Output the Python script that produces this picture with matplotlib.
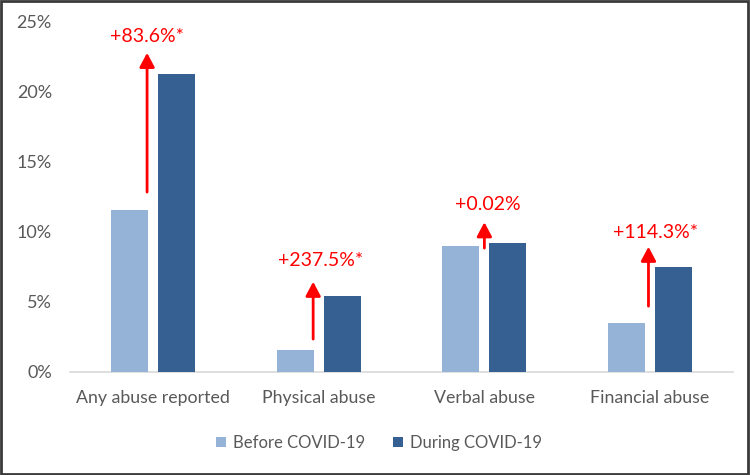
import matplotlib
matplotlib.use("Agg")
import matplotlib.pyplot as plt
import matplotlib.patches as mpatches
import numpy as np

plt.rcParams.update({
    "font.family": ["Lato", "DejaVu Sans"],
    "font.size": 12,
})

# ── data ────────────────────────────────────────────────────────────────────
categories = ["Any abuse reported", "Physical abuse", "Verbal abuse", "Financial abuse"]
before = [11.6, 1.6, 9.0, 3.5]    # % Before COVID-19
during = [21.3, 5.4, 9.2, 7.5]    # % During COVID-19
changes = ["+83.6%*", "+237.5%*", "+0.02%", "+114.3%*"]

# annotation layout (data units: x offset from category, y in %)
arrow_dx = [-0.035, -0.033, 0.0, -0.01]
arrow_y0 = [12.85, 2.35, 8.85, 4.7]
arrow_y1 = [22.8, 6.45, 10.7, 8.95]
label_dx = [-0.035, 0.015, 0.02, 0.03]
label_y = [24.0, 7.95, 11.95, 9.95]

C_BEFORE = "#95B3D7"
C_DURING = "#366092"
C_TEXT = "#595959"

fig = plt.figure(figsize=(7.5, 4.75), dpi=100)
ax = fig.add_axes([70 / 750, 1 - 372 / 475, 663 / 750, 350 / 475])

x = np.arange(len(categories))
bw = 0.223
off = 0.142
ax.bar(x - off, before, bw, color=C_BEFORE, label="Before COVID-19", zorder=3)
ax.bar(x + off, during, bw, color=C_DURING, label="During COVID-19", zorder=3)

for i, (txt, dx, y0, y1, ldx, ly) in enumerate(zip(changes, arrow_dx, arrow_y0,
                                                   arrow_y1, label_dx, label_y)):
    ax.annotate("", xy=(i + dx, y1), xytext=(i + dx, y0),
                arrowprops=dict(arrowstyle="-|>,head_length=0.85,head_width=0.45",
                                color="#FF0000", lw=2, mutation_scale=10,
                                shrinkA=0, shrinkB=0), zorder=5)
    ax.text(i + ldx, ly, txt, color="#FF0000", fontsize=14, ha="center", va="center")

ax.set_xlim(-0.5, 3.5)
ax.set_ylim(0, 25)
ax.set_yticks([0, 5, 10, 15, 20, 25])
ax.set_yticklabels([f"{v}%" for v in [0, 5, 10, 15, 20, 25]], fontsize=13)
ax.set_xticks(x)
ax.set_xticklabels(categories, fontsize=12.8)
ax.tick_params(axis="both", length=0, colors=C_TEXT)
ax.tick_params(axis="y", pad=13)
ax.tick_params(axis="x", pad=13)
for s in ["top", "right", "left"]:
    ax.spines[s].set_visible(False)
ax.spines["bottom"].set_color("#D9D9D9")
ax.spines["bottom"].set_linewidth(1.2)

fig.legend(loc="center", bbox_to_anchor=(0.505, 1 - 443 / 475), ncol=2, frameon=False,
           fontsize=12, handlelength=0.6, handleheight=0.6, handletextpad=0.4,
           columnspacing=1.7, labelcolor=C_TEXT)

fig.add_artist(mpatches.Rectangle((0.001, 0.002), 0.996, 0.995, transform=fig.transFigure,
                                  fill=False, ec="#3a3a3a", lw=2))

fig.savefig("out.png", dpi=100)
